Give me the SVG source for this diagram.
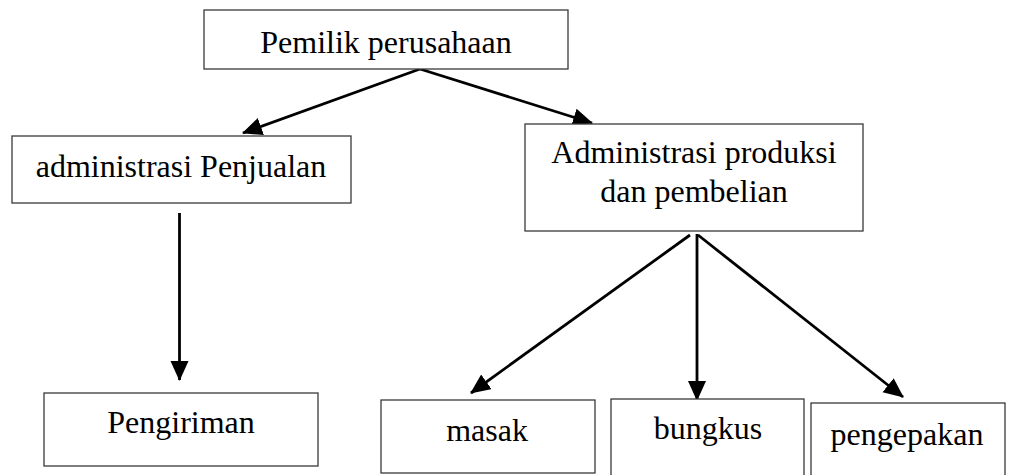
<svg xmlns="http://www.w3.org/2000/svg" width="1009" height="475" viewBox="0 0 1009 475">
  <style>
    .box { fill: #ffffff; stroke: #3a3a3a; stroke-width: 1.3; }
    .lbl { font-family: "Liberation Serif", "Times New Roman", serif; font-size: 32px; fill: #000000; text-anchor: middle; }
    .conn { stroke: #000000; stroke-width: 2.8; fill: none; marker-end: url(#arrow); }
  </style>
  <defs>
    <marker id="arrow" markerUnits="userSpaceOnUse" markerWidth="22" markerHeight="20" refX="19" refY="9" orient="auto">
      <path d="M0,0 L20,9 L0,18 Z" fill="#000000"/>
    </marker>
  </defs>
  <rect width="1009" height="475" fill="#ffffff"/>

  <g id="connectors">
    <line class="conn" x1="420" y1="69" x2="243" y2="133"/>
    <line class="conn" x1="420" y1="69" x2="592" y2="123"/>
    <line class="conn" x1="179.5" y1="213" x2="179.5" y2="380"/>
    <line class="conn" x1="690" y1="235" x2="471" y2="393"/>
    <line class="conn" x1="697" y1="234" x2="697" y2="400"/>
    <line class="conn" x1="698" y1="235" x2="903" y2="397"/>
  </g>

  <g id="node-pemilik">
    <rect class="box" x="204" y="10" width="364" height="59"/>
    <text class="lbl" x="386" y="53">Pemilik perusahaan</text>
  </g>

  <g id="node-adm-penjualan">
    <rect class="box" x="12" y="136" width="339" height="67"/>
    <text class="lbl" x="181" y="177">administrasi Penjualan</text>
  </g>

  <g id="node-adm-produksi">
    <rect class="box" x="525" y="124" width="338" height="107"/>
    <text class="lbl" x="694" y="163">Administrasi produksi</text>
    <text class="lbl" x="694" y="202">dan pembelian</text>
  </g>

  <g id="node-pengiriman">
    <rect class="box" x="44" y="393" width="274" height="73"/>
    <text class="lbl" x="181" y="433">Pengiriman</text>
  </g>

  <g id="node-masak">
    <rect class="box" x="381" y="400" width="214" height="73"/>
    <text class="lbl" x="487" y="441">masak</text>
  </g>

  <g id="node-bungkus">
    <rect class="box" x="611" y="399" width="193" height="80"/>
    <text class="lbl" x="708" y="439">bungkus</text>
  </g>

  <g id="node-pengepakan">
    <rect class="box" x="811" y="403" width="194" height="80"/>
    <text class="lbl" x="907" y="445">pengepakan</text>
  </g>
</svg>
